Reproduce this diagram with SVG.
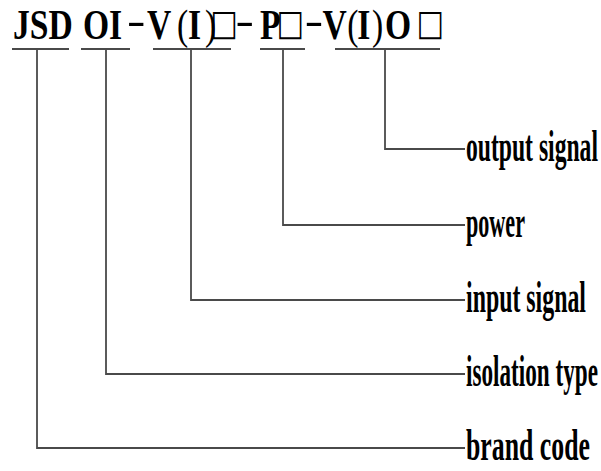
<svg xmlns="http://www.w3.org/2000/svg" width="601" height="471" viewBox="0 0 601 471">
  <style>
    .t { font-family: "Liberation Serif", "Times New Roman", serif; font-weight: bold; fill: #000; }
    .n { font-weight: normal; }
    .h { font-weight: normal; }
    .box { font-family: "DejaVu Sans", sans-serif; font-weight: normal; font-size: 36px; }
    .lbl { font-family: "Liberation Serif", "Times New Roman", serif; font-weight: bold; font-size: 44px; fill: #000; }
    .ln { fill: none; stroke: #4a4a4a; stroke-width: 1.8; }
  </style>
  <rect width="601" height="471" fill="#fff"/>
  <g id="code">
    <text class="t" font-size="42" transform="scale(0.8,1)" y="39"><tspan x="16.25">JSD </tspan><tspan x="103.75">OI</tspan><tspan class="h" x="158.75" y="34" textLength="23" lengthAdjust="spacingAndGlyphs">-</tspan><tspan x="183.75" y="39">V</tspan><tspan class="n" x="221.25">(</tspan><tspan x="235">I</tspan><tspan class="n" x="256.25">)</tspan><tspan class="box" x="263" y="35">□</tspan><tspan class="h" x="294.5" y="34" textLength="23" lengthAdjust="spacingAndGlyphs">-</tspan><tspan x="325" y="39">P</tspan><tspan class="box" x="346" y="35">□</tspan><tspan class="h" x="381" y="34" textLength="23" lengthAdjust="spacingAndGlyphs">-</tspan><tspan x="403" y="39">V</tspan><tspan class="n" x="434">(</tspan><tspan x="446.5">I</tspan><tspan class="n" x="465">)</tspan><tspan x="481.25">O</tspan><tspan class="box" x="521" y="35">□</tspan></text>
  </g>
  <g id="underlines">
    <path class="ln" d="M12 49H69M81 49H130M153 49H231M260 49H305M335 49H440"/>
  </g>
  <g id="connectors">
    <path class="ln" d="M385 49V149H465"/>
    <path class="ln" d="M283 49V225H465"/>
    <path class="ln" d="M191 49V300H465"/>
    <path class="ln" d="M106 49V374H465"/>
    <path class="ln" d="M37 49V448H465"/>
  </g>
  <g id="output-signal"><text class="lbl" x="466" y="161" textLength="132" lengthAdjust="spacingAndGlyphs">output signal</text></g>
  <g id="power"><text class="lbl" x="466" y="237" textLength="59" lengthAdjust="spacingAndGlyphs">power</text></g>
  <g id="input-signal"><text class="lbl" x="466" y="312" textLength="120" lengthAdjust="spacingAndGlyphs">input signal</text></g>
  <g id="isolation-type"><text class="lbl" x="466" y="386" textLength="132" lengthAdjust="spacingAndGlyphs">isolation type</text></g>
  <g id="brand-code"><text class="lbl" x="466" y="460" textLength="124" lengthAdjust="spacingAndGlyphs">brand code</text></g>
</svg>
